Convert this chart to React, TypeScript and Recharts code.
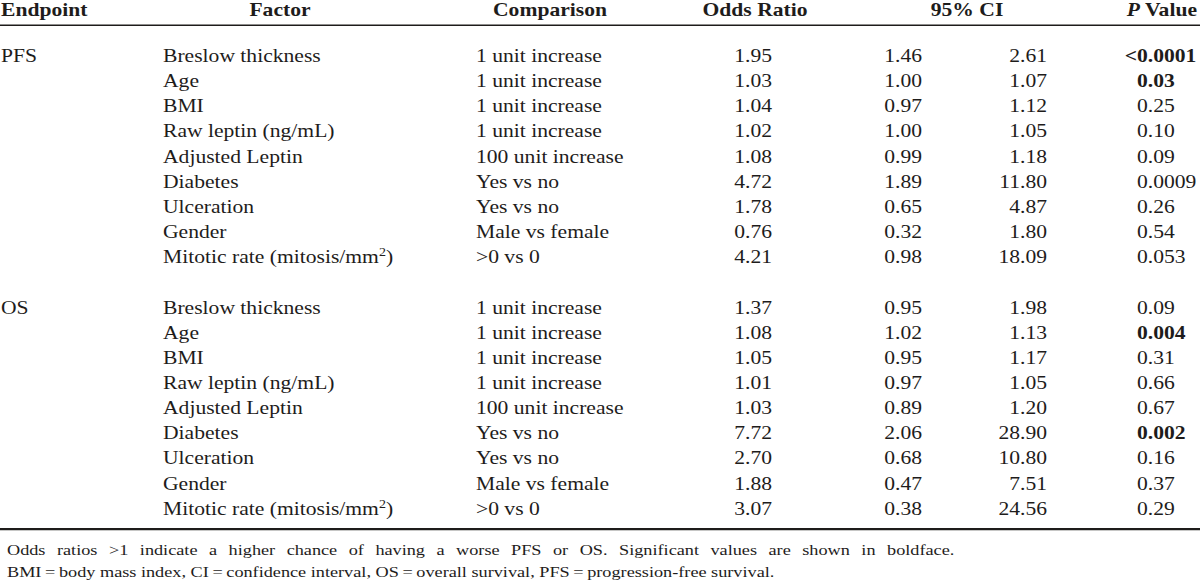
import React from 'react';
import { ScatterChart, Scatter, XAxis, YAxis, ReferenceLine } from 'recharts';

// ---------------- data ----------------
const headerLabels = ['Endpoint', 'Factor', 'Comparison', 'Odds Ratio', '95% CI', 'P Value'];
const endpoints = ['PFS', 'OS'];
const factors = [
  'Breslow thickness',
  'Age',
  'BMI',
  'Raw leptin (ng/mL)',
  'Adjusted Leptin',
  'Diabetes',
  'Ulceration',
  'Gender',
  'Mitotic rate (mitosis/mm²)',
];
const comparisons = [
  '1 unit increase',
  '1 unit increase',
  '1 unit increase',
  '1 unit increase',
  '100 unit increase',
  'Yes vs no',
  'Yes vs no',
  'Male vs female',
  '>0 vs 0',
];
const pfsOddsRatio = [1.95, 1.03, 1.04, 1.02, 1.08, 4.72, 1.78, 0.76, 4.21];
const pfsCiLow = [1.46, 1.0, 0.97, 1.0, 0.99, 1.89, 0.65, 0.32, 0.98];
const pfsCiHigh = [2.61, 1.07, 1.12, 1.05, 1.18, 11.8, 4.87, 1.8, 18.09];
const pfsPValue = ['<0.0001', '0.03', '0.25', '0.10', '0.09', '0.0009', '0.26', '0.54', '0.053'];
const pfsBold = [true, true, false, false, false, false, false, false, false];
const osOddsRatio = [1.37, 1.08, 1.05, 1.01, 1.03, 7.72, 2.7, 1.88, 3.07];
const osCiLow = [0.95, 1.02, 0.95, 0.97, 0.89, 2.06, 0.68, 0.47, 0.38];
const osCiHigh = [1.98, 1.13, 1.17, 1.05, 1.2, 28.9, 10.8, 7.51, 24.56];
const osPValue = ['0.09', '0.004', '0.31', '0.66', '0.67', '0.002', '0.16', '0.37', '0.29'];
const osBold = [false, true, false, false, false, true, false, false, false];
const footnotes = [
  'Odds ratios >1 indicate a higher chance of having a worse PFS or OS. Significant values are shown in boldface.',
  'BMI\u2009=\u2009body mass index, CI\u2009=\u2009confidence interval, OS\u2009=\u2009overall survival, PFS\u2009=\u2009progression-free survival.',
];

// ---------------- layout ----------------
const W = 1200;
const H = 588;
const ROW0 = 62; // baseline of first body row (px)
const PITCH = 25.15; // row pitch (px)
const Y_DOMAIN: [number, number] = [(0 - ROW0) / PITCH, (H - ROW0) / PITCH];
const HEADER_ROW = -1.83;
const HEADER_RULE_ROW = -1.46;
const BOTTOM_RULE_ROW = 18.57;
const FOOT_ROWS = [19.6, 20.48];
const FOOT_WORD_SPACING = [5.8, 0];
const GROUP_OFFSET = [0, 10];
const STRETCH = 1.2;
const INK = '#1e1c1b';
const FONT = '"Liberation Serif", "Times New Roman", serif';
const BODY_SIZE = 18;
const FOOT_SIZE = 15.2;

const COL = { endpoint: 1, factor: 163, comparison: 476, or: 772, ciLow: 922, ciHigh: 1047, p: 1137 };
const HEAD = [
  { x: 1, anchor: 'start' },
  { x: 280, anchor: 'middle' },
  { x: 550, anchor: 'middle' },
  { x: 755, anchor: 'middle' },
  { x: 967, anchor: 'middle' },
  { x: 1197, anchor: 'end' },
];
const FOOT_X = 7;

type Cell = {
  x: number;
  y: number;
  text: string;
  anchor: string;
  bold?: boolean;
  size: number;
  kind?: 'header' | 'pvalue' | 'plain';
  wordSpacing?: number;
};

const cells: Cell[] = [];
headerLabels.forEach((t, i) =>
  cells.push({ x: HEAD[i].x, y: HEADER_ROW, text: t, anchor: HEAD[i].anchor, bold: true, size: BODY_SIZE, kind: 'header' })
);
const groups = [
  { or: pfsOddsRatio, lo: pfsCiLow, hi: pfsCiHigh, p: pfsPValue, b: pfsBold },
  { or: osOddsRatio, lo: osCiLow, hi: osCiHigh, p: osPValue, b: osBold },
];
groups.forEach((g, gi) => {
  const base = GROUP_OFFSET[gi];
  cells.push({ x: COL.endpoint, y: base, text: endpoints[gi], anchor: 'start', size: BODY_SIZE });
  factors.forEach((f, i) => {
    const y = base + i;
    cells.push({ x: COL.factor, y, text: f, anchor: 'start', size: BODY_SIZE });
    cells.push({ x: COL.comparison, y, text: comparisons[i], anchor: 'start', size: BODY_SIZE });
    cells.push({ x: COL.or, y, text: g.or[i].toFixed(2), anchor: 'end', size: BODY_SIZE });
    cells.push({ x: COL.ciLow, y, text: g.lo[i].toFixed(2), anchor: 'end', size: BODY_SIZE });
    cells.push({ x: COL.ciHigh, y, text: g.hi[i].toFixed(2), anchor: 'end', size: BODY_SIZE });
    cells.push({ x: COL.p, y, text: g.p[i], anchor: 'start', bold: g.b[i], size: BODY_SIZE, kind: 'pvalue' });
  });
});
footnotes.forEach((t, i) =>
  cells.push({ x: FOOT_X, y: FOOT_ROWS[i], text: t, anchor: 'start', size: FOOT_SIZE, wordSpacing: FOOT_WORD_SPACING[i] })
);

const renderContent = (c: Cell) => {
  const common = {
    fontFamily: FONT,
    fontSize: c.size,
    fill: INK,
    fontWeight: c.bold ? 700 : 400,
    wordSpacing: c.wordSpacing || 0,
  } as any;
  if (c.kind === 'header' && c.text === 'P Value') {
    return (
      <text x={0} y={0} textAnchor="end" {...common}>
        <tspan fontStyle="italic">P</tspan>
        <tspan> Value</tspan>
      </text>
    );
  }
  if (c.kind === 'pvalue') {
    const m = c.text.match(/^([^0-9]*)(.*)$/);
    const prefix = m ? m[1] : '';
    const rest = m ? m[2] : c.text;
    return (
      <>
        {prefix ? (
          <text x={0} y={0} textAnchor="end" {...common}>
            {prefix}
          </text>
        ) : null}
        <text x={0} y={0} textAnchor="start" {...common}>
          {rest}
        </text>
      </>
    );
  }
  if (c.text.includes('²')) {
    const [a, b] = c.text.split('²');
    return (
      <text x={0} y={0} textAnchor={c.anchor} {...common}>
        <tspan>{a}</tspan>
        <tspan dy={-7} fontSize={c.size * 0.65}>
          2
        </tspan>
        <tspan dy={7}>{b}</tspan>
      </text>
    );
  }
  return (
    <text x={0} y={0} textAnchor={c.anchor} {...common}>
      {c.text}
    </text>
  );
};

const CellShape = (props: any) => {
  const { cx, cy, payload } = props;
  if (cx == null || cy == null || !payload) return null;
  return <g transform={`translate(${cx},${cy}) scale(${STRETCH},1)`}>{renderContent(payload as Cell)}</g>;
};

export default function App() {
  return (
    <div style={{ position: 'absolute', left: 0, top: 0, width: W, height: H, background: '#ffffff' }}>
      <ScatterChart width={W} height={H} margin={{ top: 0, right: 0, bottom: 0, left: 0 }}>
        <XAxis type="number" dataKey="x" domain={[0, W]} hide allowDataOverflow />
        <YAxis type="number" dataKey="y" domain={Y_DOMAIN} reversed hide allowDataOverflow width={0} />
        <ReferenceLine y={HEADER_RULE_ROW} stroke={INK} strokeWidth={1.5} />
        <ReferenceLine y={BOTTOM_RULE_ROW} stroke={INK} strokeWidth={2.2} />
        <Scatter data={cells} shape={(p: any) => <CellShape {...p} />} isAnimationActive={false} />
      </ScatterChart>
    </div>
  );
}
